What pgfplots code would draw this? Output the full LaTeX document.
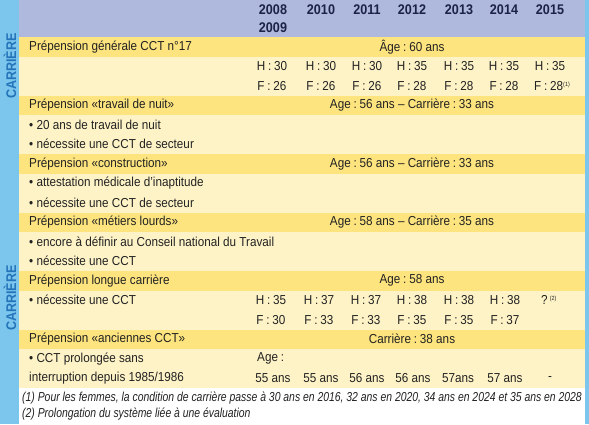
\documentclass[border=0pt]{standalone}
\usepackage{pgfplots}
\pgfplotsset{compat=1.18}
\usepackage{fontspec}
\setmainfont{Liberation Sans}[FakeStretch=0.90]
\newfontfamily\fnfont{Liberation Sans}[FakeStretch=0.80]
\definecolor{hdr}{HTML}{AFB9DE}
\definecolor{stripe}{HTML}{7CC6EE}
\definecolor{dark}{HTML}{FDE47E}
\definecolor{light}{HTML}{FEF3C7}
\definecolor{txt}{HTML}{222222}
\definecolor{yr}{HTML}{1C2344}
\definecolor{car}{HTML}{2474BA}
\newcommand\bodyfont{\fontsize{13}{15}\selectfont}
\newcommand\cl{\hspace{2.8pt}:\hspace{2.8pt}}
\begin{document}
\begin{tikzpicture}[font=\bodyfont, every node/.append style={text=txt, inner sep=0pt}]
\begin{axis}[
  scale only axis, width=589pt, height=424pt,
  xmin=0, xmax=589, ymin=0, ymax=424, y dir=reverse,
  axis lines=none, clip=false,
]
% backgrounds
\addplot[fill=white, draw=none] coordinates {(0,0) (589,0) (589,424) (0,424)} -- cycle;
\addplot[fill=hdr, draw=none] coordinates {(19,0) (589,0) (589,37) (19,37)} -- cycle;
\addplot[fill=light, draw=none] coordinates {(19,37) (589,37) (589,388) (19,388)} -- cycle;
% dark rows
\addplot[fill=dark, draw=none] coordinates {(19,37) (589,37) (589,56.5) (19,56.5)} -- cycle;
\addplot[fill=dark, draw=none] coordinates {(19,95.5) (589,95.5) (589,115) (19,115)} -- cycle;
\addplot[fill=dark, draw=none] coordinates {(19,154) (589,154) (589,173.5) (19,173.5)} -- cycle;
\addplot[fill=dark, draw=none] coordinates {(19,212.5) (589,212.5) (589,232) (19,232)} -- cycle;
\addplot[fill=dark, draw=none] coordinates {(19,271) (589,271) (589,290.5) (19,290.5)} -- cycle;
\addplot[fill=dark, draw=none] coordinates {(19,329.5) (589,329.5) (589,349) (19,349)} -- cycle;
% stripes
\addplot[fill=stripe, draw=none] coordinates {(0,0) (19,0) (19,424) (0,424)} -- cycle;
\addplot[fill=stripe, draw=none] coordinates {(585,0) (589,0) (589,424) (585,424)} -- cycle;
% side labels
\node[rotate=90, text=car, font=\bfseries\fontsize{14}{15}\selectfont] at (axis cs:10,66) {CARRIÈRE};
\node[rotate=90, text=car, font=\bfseries\fontsize{14}{15}\selectfont] at (axis cs:10,298) {CARRIÈRE};
% header years
\begin{scope}[every node/.append style={text=yr, font=\bfseries\fontsize{14}{15}\selectfont}]
\node at (axis cs:273,10) {2008};
\node at (axis cs:273,28) {2009};
\node at (axis cs:321,10) {2010};
\node at (axis cs:367,10) {2011};
\node at (axis cs:412,10) {2012};
\node at (axis cs:459,10) {2013};
\node at (axis cs:504,10) {2014};
\node at (axis cs:550,10) {2015};
\end{scope}
% row labels
\node[anchor=west] at (axis cs:29,46.75) {Prépension générale CCT n°17};
\node[anchor=west] at (axis cs:29,105.25) {Prépension «travail de nuit»};
\node[anchor=west] at (axis cs:29,124.75) {• 20 ans de travail de nuit};
\node[anchor=west] at (axis cs:29,144.25) {• nécessite une CCT de secteur};
\node[anchor=west] at (axis cs:29,163.75) {Prépension «construction»};
\node[anchor=west] at (axis cs:29,183.25) {• attestation médicale d’inaptitude};
\node[anchor=west] at (axis cs:29,202.75) {• nécessite une CCT de secteur};
\node[anchor=west] at (axis cs:29,222.25) {Prépension «métiers lourds»};
\node[anchor=west] at (axis cs:29,241.75) {• encore à définir au Conseil national du Travail};
\node[anchor=west] at (axis cs:29,261.25) {• nécessite une CCT};
\node[anchor=west] at (axis cs:29,280.75) {Prépension longue carrière};
\node[anchor=west] at (axis cs:29,300.25) {• nécessite une CCT};
\node[anchor=west] at (axis cs:29,339.25) {Prépension «anciennes CCT»};
\node[anchor=west] at (axis cs:29,358.75) {• CCT prolongée sans};
\node[anchor=west] at (axis cs:29,378.25) {interruption depuis 1985/1986};
% spanning values
\node at (axis cs:412,46.75) {Âge\cl 60 ans};
\node at (axis cs:412,105.25) {Age\cl 56 ans – Carrière\cl 33 ans};
\node at (axis cs:412,163.75) {Age\cl 56 ans – Carrière\cl 33 ans};
\node at (axis cs:412,222.25) {Age\cl 58 ans – Carrière\cl 35 ans};
\node at (axis cs:412,280.75) {Age\cl 58 ans};
\node at (axis cs:412,339.25) {Carrière\cl 38 ans};
% H / F general
\node at (axis cs:272,66.25) {H\cl 30};
\node at (axis cs:321,66.25) {H\cl 30};
\node at (axis cs:367,66.25) {H\cl 30};
\node at (axis cs:412,66.25) {H\cl 35};
\node at (axis cs:459,66.25) {H\cl 35};
\node at (axis cs:504,66.25) {H\cl 35};
\node at (axis cs:550,66.25) {H\cl 35};
\node at (axis cs:272,85.75) {F\cl 26};
\node at (axis cs:321,85.75) {F\cl 26};
\node at (axis cs:367,85.75) {F\cl 26};
\node at (axis cs:412,85.75) {F\cl 28};
\node at (axis cs:459,85.75) {F\cl 28};
\node at (axis cs:504,85.75) {F\cl 28};
\node[anchor=west] at (axis cs:534,85.75) {F\cl 28\raisebox{0.6ex}{\fontsize{6}{7}\selectfont(1)}};
% longue carriere
\node at (axis cs:271,300.25) {H\cl 35};
\node at (axis cs:319,300.25) {H\cl 37};
\node at (axis cs:366,300.25) {H\cl 37};
\node at (axis cs:412,300.25) {H\cl 38};
\node at (axis cs:459,300.25) {H\cl 38};
\node at (axis cs:505,300.25) {H\cl 38};
\node[anchor=west] at (axis cs:541,300.25) {?\,\raisebox{0.6ex}{\fontsize{6}{7}\selectfont(2)}};
\node at (axis cs:271,319.75) {F\cl 30};
\node at (axis cs:319,319.75) {F\cl 33};
\node at (axis cs:366,319.75) {F\cl 33};
\node at (axis cs:412,319.75) {F\cl 35};
\node at (axis cs:459,319.75) {F\cl 35};
\node at (axis cs:505,319.75) {F\cl 37};
% anciennes
\node[anchor=west] at (axis cs:257,358.75) {Age\hspace{2.8pt}:};
\node at (axis cs:273,378.25) {55 ans};
\node at (axis cs:321,378.25) {55 ans};
\node at (axis cs:367,378.25) {56 ans};
\node at (axis cs:413,378.25) {56 ans};
\node at (axis cs:458,378.25) {57ans};
\node at (axis cs:505,378.25) {57 ans};
\node at (axis cs:550,378.25) {-};
% footnotes
\node[anchor=west, font=\fnfont\itshape\fontsize{13}{15}\selectfont] at (axis cs:22,398) {(1) Pour les femmes, la condition de carrière passe à 30 ans en 2016, 32 ans en 2020, 34 ans en 2024 et 35 ans en 2028};
\node[anchor=west, font=\fnfont\itshape\fontsize{13}{15}\selectfont] at (axis cs:22,414) {(2) Prolongation du système liée à une évaluation};
\end{axis}
\end{tikzpicture}
\end{document}
